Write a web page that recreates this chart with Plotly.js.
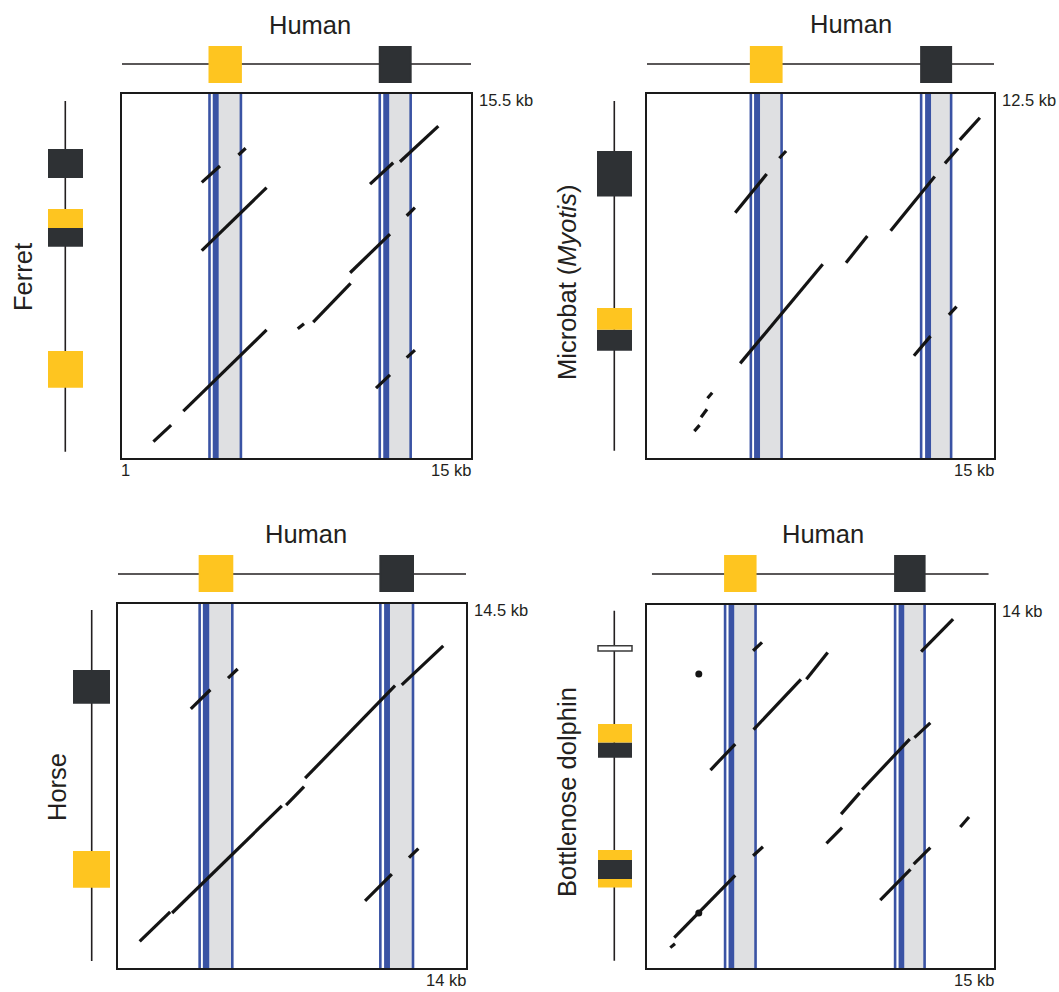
<!DOCTYPE html>
<html>
<head>
<meta charset="utf-8">
<script src="https://cdn.plot.ly/plotly-3.0.1.min.js"></script>
<style>html,body{margin:0;padding:0;background:#fff;}#chart{width:1059px;height:992px;}</style>
</head>
<body>
<div id="chart"></div>
<script>
// ---------------- DATA (kb) ----------------
const speciesNames = ['Ferret', 'Microbat (<i>Myotis</i>)', 'Horse', 'Bottlenose dolphin'];
const refName = 'Human';
const xMaxKb = [15, 15, 14, 15];
const yMaxKb = [15.5, 12.5, 14.5, 14];
const topLabels = ['15.5 kb', '12.5 kb', '14.5 kb', '14 kb'];
const bottomLabels = ['15 kb', '15 kb', '14 kb', '15 kb'];
const originLabel = '1';

// Human exons (x axis) per panel
const humanSpan1 = [0.96, 15.04];
const humanExonStart1 = [4.51, 11.34];
const humanExonEnd1 = [5.77, 12.58];
const humanBlueStart1 = [4.64, 11.48];
const humanBlueEnd1 = [4.88, 11.72];

const humanSpan2 = [0.93, 15.07];
const humanExonStart2 = [5.19, 12.06];
const humanExonEnd2 = [6.43, 13.27];
const humanBlueStart2 = [5.32, 12.22];
const humanBlueEnd2 = [5.56, 12.46];

const humanSpan3 = [0.96, 14.03];
const humanExonStart3 = [4.05, 10.80];
const humanExonEnd3 = [5.27, 12.02];
const humanBlueStart3 = [4.17, 10.94];
const humanBlueEnd3 = [4.41, 11.16];

const humanSpan4 = [1.20, 14.78];
const humanExonStart4 = [4.15, 11.01];
const humanExonEnd4 = [5.38, 12.20];
const humanBlueStart4 = [4.29, 11.15];
const humanBlueEnd4 = [4.52, 11.38];

const humanExonType = ['A', 'B'];

// Other species exons (y axis)
const ferretSpan = [1.25, 15.22];
const ferretExonStart = [3.80, 9.42, 10.16, 12.15];
const ferretExonEnd = [5.26, 10.16, 10.92, 13.31];
const ferretExonType = ['A', 'B', 'A', 'B'];

const batSpan = [1.23, 12.28];
const batExonStart = [4.39, 5.05, 9.26];
const batExonEnd = [5.05, 5.74, 10.70];
const batExonType = ['B', 'A', 'B'];

const horseSpan = [1.26, 14.28];
const horseExonStart = [3.98, 10.80];
const horseExonEnd = [5.34, 12.05];
const horseExonType = ['A', 'B'];

const dolphinSpan = [1.26, 13.79];
const dolphinExonStart = [3.88, 4.19, 4.87, 8.53, 9.08, 12.35];
const dolphinExonEnd = [4.19, 4.87, 5.23, 9.08, 9.74, 12.54];
const dolphinExonType = ['A', 'B', 'A', 'B', 'A', 'C'];

// Dot-plot matches (segments separated by null)
const ferretDotX = [2.26,2.97,null, 3.46,6.80,null, 8.05,8.30,null, 8.67,10.17,null, 10.15,11.75,null, 4.20,6.80,null, 4.20,4.93,null, 5.67,5.96,null, 10.95,11.88,null, 12.15,13.69,null, 12.42,12.75,null, 11.19,11.75,null, 12.42,12.75];
const ferretDotY = [1.65,2.31,null, 2.87,6.10,null, 6.15,6.35,null, 6.41,7.96,null, 8.38,9.92,null, 9.26,11.77,null, 11.98,12.63,null, 13.07,13.34,null, 11.91,12.76,null, 12.80,14.22,null, 10.65,10.97,null, 3.78,4.31,null, 5.00,5.30];

const batDotX = [2.91,3.12,null, 3.18,3.42,null, 3.44,3.63,null, 4.76,8.09,null, 9.03,9.89,null, 10.83,12.61,null, 13.02,13.55,null, 13.62,14.43,null, 4.56,5.83,null, 6.34,6.61,null, 11.77,12.44,null, 13.18,13.49];
const batDotY = [1.85,2.04,null, 2.29,2.54,null, 2.89,3.06,null, 3.99,7.12,null, 7.17,8.01,null, 8.18,9.89,null, 10.31,10.78,null, 11.05,11.75,null, 8.75,9.97,null, 10.47,10.70,null, 4.23,4.85,null, 5.52,5.78];

const horseDotX = [1.81,2.95,null, 3.02,7.12,null, 7.28,7.95,null, 7.99,11.35,null, 11.60,13.15,null, 3.72,4.45,null, 5.11,5.47,null, 10.23,11.23,null, 11.87,12.22];
const horseDotY = [1.99,3.08,null, 3.04,7.01,null, 7.04,7.73,null, 8.04,11.47,null, 11.50,12.95,null, 10.61,11.32,null, 11.75,12.09,null, 3.49,4.48,null, 5.09,5.43];

const dolphinDotX = [1.94,2.13,null, 2.10,4.56,null, 3.56,4.56,null, 5.28,5.64,null, 5.30,7.21,null, 7.43,8.29,null, 5.28,5.68,null, 8.24,8.87,null, 8.83,9.58,null, 9.68,11.60,null, 11.79,12.43,null, 10.41,11.63,null, 11.76,12.43,null, 12.06,13.35,null, 13.64,13.99];
const dolphinDotY = [1.73,1.87,null, 2.09,4.32,null, 8.09,9.02,null, 12.36,12.66,null, 9.54,11.34,null, 11.34,12.30,null, 5.02,5.34,null, 5.46,6.03,null, 6.51,7.27,null, 7.39,9.20,null, 9.25,9.78,null, 3.43,4.53,null, 4.72,5.31,null, 12.33,13.49,null, 6.05,6.41];
const dolphinSpotX = [3.09, 3.09];
const dolphinSpotY = [11.53, 2.97];

// ---------------- LAYOUT / STYLE ----------------
const W = 1059, H = 992;
const fx = p => p / W;
const fy = p => 1 - p / H;
const COLORS = {A: '#FEC520', B: '#2E3134', C: '#FFFFFF'};
const BLUE = '#3A53A4', GRAY = '#DFE0E2', INK = '#231F20';
const FONT = 'Liberation Sans, Arial, Helvetica, sans-serif';

const panels = [
  {box: [122, 471, 94, 458], titleXY: [310, 25], topLine: 64, topSq: [47, 82], leftLine: 65.3, leftSq: [48, 83], labelXY: [23, 277],
   hSpan: humanSpan1, hS: humanExonStart1, hE: humanExonEnd1, bS: humanBlueStart1, bE: humanBlueEnd1,
   sSpan: ferretSpan, sS: ferretExonStart, sE: ferretExonEnd, sT: ferretExonType, dx: ferretDotX, dy: ferretDotY},
  {box: [647, 994, 94, 458], titleXY: [851, 24], topLine: 64, topSq: [47, 82], leftLine: 614.3, leftSq: [597, 632], labelXY: [567, 282],
   hSpan: humanSpan2, hS: humanExonStart2, hE: humanExonEnd2, bS: humanBlueStart2, bE: humanBlueEnd2,
   sSpan: batSpan, sS: batExonStart, sE: batExonEnd, sT: batExonType, dx: batDotX, dy: batDotY},
  {box: [118, 466, 604, 968], titleXY: [306, 534], topLine: 574, topSq: [556, 591], leftLine: 91.7, leftSq: [73, 110], labelXY: [57, 787],
   hSpan: humanSpan3, hS: humanExonStart3, hE: humanExonEnd3, bS: humanBlueStart3, bE: humanBlueEnd3,
   sSpan: horseSpan, sS: horseExonStart, sE: horseExonEnd, sT: horseExonType, dx: horseDotX, dy: horseDotY},
  {box: [647, 994, 605, 968], titleXY: [823, 534], topLine: 574, topSq: [556, 591], leftLine: 614.3, leftSq: [598, 632], labelXY: [567, 792],
   hSpan: humanSpan4, hS: humanExonStart4, hE: humanExonEnd4, bS: humanBlueStart4, bE: humanBlueEnd4,
   sSpan: dolphinSpan, sS: dolphinExonStart, sE: dolphinExonEnd, sT: dolphinExonType, dx: dolphinDotX, dy: dolphinDotY}
];

const layout = {
  width: W, height: H,
  margin: {l: 0, r: 0, t: 0, b: 0},
  paper_bgcolor: '#fff', plot_bgcolor: '#fff',
  showlegend: false,
  font: {family: FONT, color: INK},
  shapes: [], annotations: []
};
const traces = [];

panels.forEach((p, i) => {
  const n = i === 0 ? '' : String(i + 1);
  const xa = 'x' + n, ya = 'y' + n;
  const [bl, br, bt, bb] = p.box;
  const axBase = {showline: true, mirror: true, linewidth: 2, linecolor: '#1A1A1A', showgrid: false,
                  zeroline: false, showticklabels: false, ticks: '', fixedrange: true};
  layout['xaxis' + n] = Object.assign({}, axBase, {domain: [fx(bl), fx(br)], range: [1, xMaxKb[i]], anchor: ya});
  layout['yaxis' + n] = Object.assign({}, axBase, {domain: [fy(bb), fy(bt)], range: [1, yMaxKb[i]], anchor: xa});

  // exon bands on dot plot
  for (let k = 0; k < p.hS.length; k++) {
    layout.shapes.push({type: 'rect', layer: 'below', xref: xa, yref: ya + ' domain', x0: p.bE[k], x1: p.hE[k], y0: 0, y1: 1,
      fillcolor: GRAY, line: {width: 0}});
    layout.shapes.push({type: 'rect', layer: 'below', xref: xa, yref: ya + ' domain', x0: p.bS[k], x1: p.bE[k], y0: 0, y1: 1,
      fillcolor: BLUE, line: {width: 0}});
    [p.hS[k], p.hE[k]].forEach(xv => layout.shapes.push({type: 'line', layer: 'below', xref: xa, yref: ya + ' domain',
      x0: xv, x1: xv, y0: 0, y1: 1, line: {color: BLUE, width: 2.6}}));
  }

  // human gene diagram (top)
  layout.shapes.push({type: 'line', xref: xa, yref: 'paper', x0: p.hSpan[0], x1: p.hSpan[1],
    y0: fy(p.topLine), y1: fy(p.topLine), line: {color: INK, width: 1.6}});
  for (let k = 0; k < p.hS.length; k++) {
    const c = COLORS[humanExonType[k]];
    layout.shapes.push({type: 'rect', xref: xa, yref: 'paper', x0: p.hS[k], x1: p.hE[k],
      y0: fy(p.topSq[1]), y1: fy(p.topSq[0]), fillcolor: c, line: {color: c, width: 2}});
  }

  // other species gene diagram (left)
  layout.shapes.push({type: 'line', xref: 'paper', yref: ya, x0: fx(p.leftLine), x1: fx(p.leftLine),
    y0: p.sSpan[0], y1: p.sSpan[1], line: {color: INK, width: 1.6}});
  for (let k = 0; k < p.sS.length; k++) {
    const t = p.sT[k];
    const c = COLORS[t];
    layout.shapes.push({type: 'rect', xref: 'paper', yref: ya, x0: fx(p.leftSq[0]), x1: fx(p.leftSq[1]),
      y0: p.sS[k], y1: p.sE[k], fillcolor: c,
      line: t === 'C' ? {color: '#3A3A3A', width: 1.5} : {width: 0}});
  }

  // dot plot matches
  traces.push({type: 'scatter', mode: 'lines', xaxis: xa, yaxis: ya, x: p.dx, y: p.dy,
    line: {color: '#141414', width: 3.2}, hoverinfo: 'skip', connectgaps: false});

  // texts
  layout.annotations.push({xref: 'paper', yref: 'paper', x: fx(p.titleXY[0]), y: fy(p.titleXY[1]), text: refName,
    showarrow: false, xanchor: 'center', yanchor: 'middle', font: {size: 25.5, color: INK, family: FONT}});
  layout.annotations.push({xref: 'paper', yref: 'paper', x: fx(p.labelXY[0]), y: fy(p.labelXY[1]), text: speciesNames[i],
    textangle: -90, showarrow: false, xanchor: 'center', yanchor: 'middle', font: {size: 25.5, color: INK, family: FONT}});
  layout.annotations.push({xref: 'paper', yref: 'paper', x: fx(br + 6), y: fy(bt + 6), text: topLabels[i],
    showarrow: false, xanchor: 'left', yanchor: 'middle', font: {size: 16.5, color: INK, family: FONT}});
  layout.annotations.push({xref: 'paper', yref: 'paper', x: fx(br + 2), y: fy(bb + 12), text: bottomLabels[i],
    showarrow: false, xanchor: 'right', yanchor: 'middle', font: {size: 16.5, color: INK, family: FONT}});
  if (i === 0) {
    layout.annotations.push({xref: 'paper', yref: 'paper', x: fx(bl - 3), y: fy(bb + 12), text: originLabel,
      showarrow: false, xanchor: 'left', yanchor: 'middle', font: {size: 16.5, color: INK, family: FONT}});
  }
});

traces.push({type: 'scatter', mode: 'markers', xaxis: 'x4', yaxis: 'y4', x: dolphinSpotX, y: dolphinSpotY,
  marker: {color: '#141414', size: 7}, hoverinfo: 'skip'});

Plotly.newPlot('chart', traces, layout, {staticPlot: true, displayModeBar: false});
</script>
</body>
</html>
